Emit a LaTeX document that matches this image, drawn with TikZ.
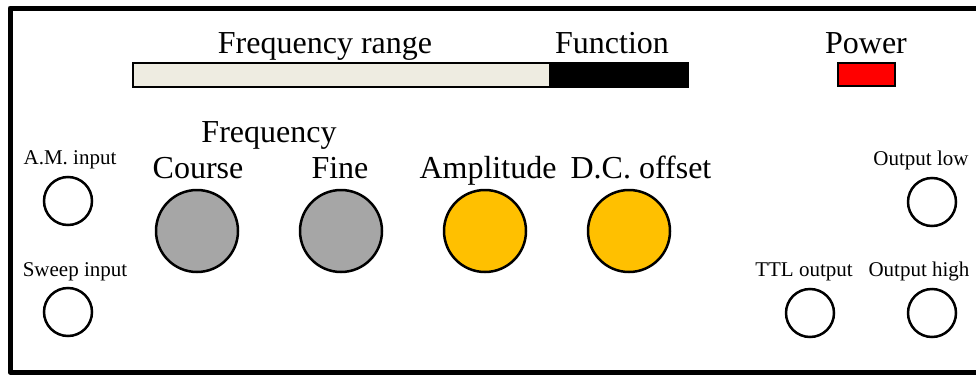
\documentclass[tikz,border=0pt]{standalone}
\usepackage{fontspec}
\setmainfont{Liberation Serif}
\definecolor{barlight}{HTML}{EEECE1}
\definecolor{knobgray}{HTML}{A6A6A6}
\definecolor{knoborange}{HTML}{FFC000}
\begin{document}
\begin{tikzpicture}[x=1pt,y=-1pt,
  big/.style={anchor=base,inner sep=0pt,font=\fontsize{32}{33}\selectfont},
  small/.style={anchor=base,inner sep=0pt,font=\fontsize{21}{22}\selectfont},
  jack/.style={circle,draw=black,line width=2.5pt,fill=white,minimum size=48pt,inner sep=0pt},
  knob/.style={circle,draw=black,line width=2.5pt,minimum size=82pt,inner sep=0pt},
]
\useasboundingbox (0,0) rectangle (976,380);
% frame (open on the right)
\draw[line width=5pt,line join=round] (976,8) -- (10,8) -- (10,372) -- (976,372);
% top labels
\node[big] (lfr) at (325,53) {Frequency range};
\node[big] (lfn) at (612,53) {Function};
\node[big] (lpw) at (866,53) {Power};
% bar
\node[draw=black,line width=1.5pt,fill=barlight,minimum width=417pt,minimum height=24pt,inner sep=0pt,anchor=north west] (barl) at (132,62) {};
\node[draw=black,line width=1.5pt,fill=black,minimum width=138pt,minimum height=24pt,inner sep=0pt,anchor=north west] (barr) at (549,62) {};
\node[draw=black,line width=2pt,fill=red,minimum width=57pt,minimum height=23pt,inner sep=0pt,anchor=north west] (pwr) at (837,62) {};
% knob labels
\node[big] (lfreq) at (269,142) {Frequency};
\node[big] (lcourse) at (198,178) {Course};
\node[big] (lfine) at (340,178) {Fine};
\node[big] (lamp) at (488,178) {Amplitude};
\node[big] (ldc) at (641,178) {D.C. offset};
% knobs
\node[knob,fill=knobgray] (kcourse) at (197,231) {};
\node[knob,fill=knobgray] (kfine) at (341,231) {};
\node[knob,fill=knoborange] (kamp) at (485,231) {};
\node[knob,fill=knoborange] (kdc) at (629,231) {};
% jacks and their labels
\node[small] (lam) at (70,164) {A.M. input};
\node[jack] (jam) at (68,201) {};
\node[small] (lsw) at (75,276) {Sweep input};
\node[jack] (jsw) at (68,312) {};
\node[small] (lol) at (921,165) {Output low};
\node[jack] (jol) at (932,202) {};
\node[small] (lttl) at (804,276) {TTL output};
\node[jack] (jttl) at (810,313) {};
\node[small] (loh) at (919,276) {Output high};
\node[jack] (joh) at (932,313) {};
\end{tikzpicture}
\end{document}
